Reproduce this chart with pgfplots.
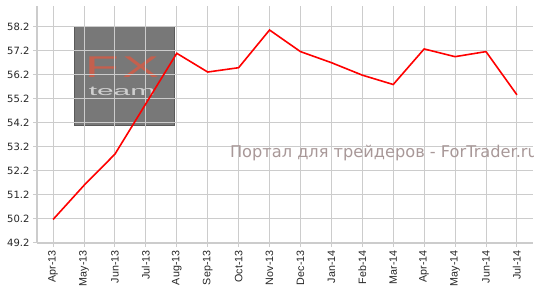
\documentclass[border=0pt]{standalone}
\usepackage{pgfplots}
\pgfplotsset{compat=1.18}
\usepackage{fontspec}
\setmainfont{Liberation Sans}
\newfontfamily\dejavu{DejaVu Sans}
\definecolor{gridc}{HTML}{CCCCCC}
\definecolor{logoc}{HTML}{787878}
\definecolor{logob}{HTML}{5A5A5A}
\definecolor{fxc}{HTML}{C4604E}
\definecolor{teamc}{HTML}{CFCFCF}
\definecolor{wmc}{HTML}{A89898}
\begin{document}
\begin{tikzpicture}
\path (0,0) rectangle (544pt,286pt);
\begin{axis}[
  at={(37pt,43pt)}, anchor=south west,
  scale only axis, width=496pt, height=237pt,
  xmin=-0.52, xmax=15.52, ymin=49.2, ymax=59.07,
  xtick={0,...,15},
  xticklabels={Apr-13,May-13,Jun-13,Jul-13,Aug-13,Sep-13,Oct-13,Nov-13,Dec-13,Jan-14,Feb-14,Mar-14,Apr-14,May-14,Jun-14,Jul-14},
  ytick={49.2,50.2,51.2,52.2,53.2,54.2,55.2,56.2,57.2,58.2},
  yticklabels={49.2,50.2,51.2,52.2,53.2,54.2,55.2,56.2,57.2,58.2},
  grid=major, major grid style={gridc, line width=1pt},
  axis x line*=bottom, axis y line*=left,
  axis line style={gridc, line width=2pt, -},
  tick style={gridc, line width=1pt},
  major tick length=4pt, tick align=outside,
  x tick label style={rotate=90, anchor=east, text=black!85, font=\fontsize{10.7}{11}\selectfont},
  y tick label style={text=black!85, font=\dejavu\fontsize{10}{10}\selectfont},
  set layers,
]
\begin{pgfonlayer}{axis background}
\fill[logoc, draw=logob, line width=0.8pt] (axis cs:0.68,54.1) rectangle (axis cs:3.91,58.24);
\node[text=fxc, inner sep=0pt, anchor=base] at (axis cs:2.23,56.08) {\scalebox{1.85}[1]{\fontsize{30}{30}\selectfont\addfontfeature{LetterSpace=6}FX}};
\node[text=teamc, inner sep=0pt, anchor=base] at (axis cs:2.23,55.33) {\scalebox{2.3}[1]{\fontsize{13}{13}\selectfont team}};
\end{pgfonlayer}
\addplot[red, line width=1.6pt, mark=none] coordinates {
(0,50.18) (1,51.6) (2,52.9) (3,55.0) (4,57.1) (5,56.32) (6,56.5) (7,58.07)
(8,57.17) (9,56.71) (10,56.19) (11,55.8) (12,57.28) (13,56.96) (14,57.17) (15,55.37)
};
\node[text=wmc, inner sep=0pt, anchor=base, font=\dejavu\fontsize{16.2}{17}\selectfont] at (axis cs:10.7,52.74) {Портал для трейдеров - ForTrader.ru};
\end{axis}
\end{tikzpicture}
\end{document}
